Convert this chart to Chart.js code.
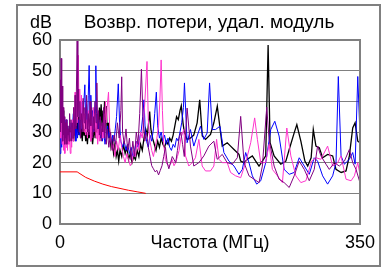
<!DOCTYPE html>
<html>
<head>
<meta charset="utf-8">
<script src="https://cdn.jsdelivr.net/npm/chart.js@4"></script>
<style>
  body { margin: 0; background: #fff; }
  #wrap { width: 386px; height: 268px; }
</style>
</head>
<body>
<div id="wrap"><canvas id="rlChart" width="386" height="268"></canvas></div>
<script>
// axis labels
const chartTitle = 'Возвр. потери, удал. модуль';
const yUnit = 'dB';
const xTickLabels = { 0: '0', 175: 'Частота (МГц)', 350: '350' };

// limit line (red)
const limitMHz = [0, 20, 30, 40, 50, 60, 70, 80, 90, 100];
const limitDb = [17, 17, 15.2, 14, 13, 12.2, 11.6, 11, 10.5, 10];

// purple trace
const purpleMHz = [0,0.7,1.4,2,2.6,3.2,3.8,4.4,5,5.6,6.2,6.8,7.4,8,8.6,9.2,9.8,10.5,11.2,12,12.8,13.6,14.4,15.2,16,16.8,17.6,18.4,19.2,20,
  20.8,21.6,22.4,23.2,24,25,26,27,28,29,30,31,32,33,34,35,36,37,38,39,40,41,42,43,44,45,46,47,48,49,50,51,52,53,54,55,
  57,59,61,63,65,67,69,71,72,73,75,77,79,81,83,85,87,89,91,93,95,97,99,101,103,105,107,109,111,113,115,117,119,121,123,125,127,129,131,133,
  135,137,139,141,143,145,148.3,152.2,156.1,162,167.8,173.7,179.5,183.4,189.3,195,201,206.9,210.8,214.7,220.5,226.4,232.2,236.1,241.2,243.9,
  249.8,255.6,261.5,267.4,273.2,279.1,285,290.8,296.6,300.5,304.4,310.3,314.2,320,325.9,331.8,337.6,341.5,345.4,349.3,350];
const purpleDb = [47,30,54,33,45,27,38,29,35,26,33,28,34,26,32,29,31,27,36,30,34,27,33,28,38,29,42,31,45,60,
  35,44,30,40,28,36,30,41,33,38,31,42,30,36,29,40,32,38,28,35,30,40,33,46,31,37,29,35,27,33,30,38,28,34,26,31,
  25,30,24,29,26,33,28,37,48,30,26,31,24,28,21,27,22,30,26,36,50.5,33,27,30,25,22,19,18,17,17.5,16,17.5,19,22,25,20,18,20,22,21,
  20,24,28,30,26,22,37.8,25.4,18.9,20,22.2,25.4,27,21.1,22.7,20,19.5,21.6,35.1,20,15.7,14.6,13.5,18.9,38.1,27.6,
  18.9,14.6,13.5,11.9,15.7,20.5,17.8,14.1,17.8,25.4,22.2,19.5,17.8,20,18.9,20.5,24.3,20,17.8,14.1,13.7];

// magenta trace
const magentaMHz = [0,0.8,1.6,2.4,3.2,4,4.8,5.6,6.4,7.2,8,8.8,9.6,10.4,11.2,12,12.8,13.6,14.4,15.2,16,16.8,17.6,18.4,19.2,20,21.4,22.2,23,24,
  25,26,27,28,29,30,31,32,33,34,35,36,37,38,39,40,41,42,43,44,45,46,47,48,49,50,51,52,53,54,55,
  56.6,58,59.5,61,62.5,64,66,68,70,72,74,76,78,80,82,84,86,88,90,92,94,96,98,100,101.5,103,105,107,109,111,
  113,115,116.5,118,119.5,121,123,125,127,129,131,133,135,137,139,141,144.4,146.4,150.3,154.2,
  158,162,165.9,169.8,175.6,179.5,182.7,185.4,189.3,195.1,199,204.9,210.8,216.6,222.5,227.1,230.3,234.2,240,243.9,
  247.8,253.7,259.5,264.6,269.3,275.2,281,286.9,293.5,298.6,304.4,312.2,318.1,324,327.8,333.7,339.6,343.5,347.4,350];
const magentaDb = [40,28,44,26,35,24,31,23,29,25,33,24,30,26,28,23,31,25,34,27,38,30,43,32,40,33,55,37,44,34,
  42,33,39,30,36,29,34,28,37,30,33,27,35,29,38,31,36,28,33,26,31,27,34,29,32,28,36,30,40,33,38,
  43,31,27,24,26,22,27,24,29,25,22,20,23,21,19,20,24,22,27,24,30,28,35,45,53,34,27,24,22,25,
  28,32,40,53.5,37,26,21,19.5,19,19.5,21,19,20,22,24,28,30.8,22.2,18.9,20,
  21.6,27.6,18.9,17.3,17.3,18.9,27.6,21.1,20,20,16.8,15.7,15.1,20,26.5,34.6,27.6,20,20,26,
  17.8,15.7,13.5,31.3,22.2,15.7,13.5,14.1,20.5,21.6,21.1,25.4,18.9,20,22.2,14.6,14.1,15.7,20,16];

// blue trace
const blueMHz = [0,1,2,3,4,5,6,7,8,9,10,11,12,13,14,15.6,16.5,17.5,18.5,19.5,20.5,21.5,22.5,23.5,24.5,25.5,26.5,27.5,29,30,
  31,32,33,34,35,36,37,38,39,40,41,41.8,42.6,43.5,44.5,45.5,46.5,47.5,48.5,49.5,51,52.5,54,55.5,57,58.5,60,61.5,63,64.5,
  66,68,69.5,71,73,75,77,79,81,83,85,87,89,91,93,95,96.5,98,99.5,101,103,105,107,109,110.5,112.4,114,116,118,120,
  122,124,126,128,130,132,134,136,138,140,142,144,145.2,148.3,152.2,156.1,160,163.9,167.8,171.7,
  174.5,177.6,181.5,186.6,191.2,197.1,203,208.8,212.7,216.6,220.5,224.4,229.5,234.2,240,245.9,250.6,255.6,261.5,267.4,
  273.2,279.1,285,290.8,296.6,300.5,306.4,312.2,318.1,322,324.7,327.9,331.8,337.6,341.5,344.3,347.4,350];
const blueDb = [23,30,25,33,28,31,27,34,29,32,27,30,28,33,30,36,29,32,27,31,28,34,29,37,31,40,33,38,45.4,33,
  39,31,42,51.7,36,42,32,37,30,35,40,51.6,36,31,34,29,33,28,31,27,30,26,29,32,28,30,26,29,27,31,
  35,45.7,33,27,25,27,24,26,23,25,22,24,27,25,28,31,35,40.5,30,27,25,29,27,31,36,43,32,28,30,27,
  29,26,28,25,24,26,25,28,27,30,33,38,46,26.5,30.8,25.4,28.7,31.9,27.6,29.7,
  46,30.8,30.8,31.9,23.3,20.5,18.9,16.2,17.8,23.3,20,15.7,13,14.1,20,30.8,33.5,28.7,17.8,16.2,
  16.8,21.6,18.9,16.2,21.6,20.5,15.7,13,15.7,20,48.1,22.2,19.5,21.1,23.3,19.5,48.1,28.7];

// black trace
const blackMHz = [0,0.6,1.3,2,2.8,3.6,4.4,5.2,6,7,8,9,10,11,12,13,14,15,16,17,18,19,20,21,22,23,24,25,26,27,28,29,30,31,32,33,34,35,36,37,
  38,39,40,41,42,43,44,45,46,47,48,49,50,51,52,53,54,55,56,57,58,59.5,61,62.5,64,65.5,67,68.5,70,72,74,76,78,80,82,84,86,
  88,90,92,94,96,98,100,102,104.6,106,108,110,112,114,116,118,120,122,124,126,128,130,132,134,136,138,140,141.5,143.5,145,
  148.3,152,156,160,163,166,169.8,175.6,179.5,183.5,189.3,195.1,199,203,208.8,210.8,214.7,218.6,224.4,228.3,
  232.2,236.1,240,242.8,245.1,249.8,257.6,263.5,267.4,273.2,276.3,281,285.7,289,293,295.5,298.6,302.5,306.4,312.2,
  318.1,322,328,333.7,337.6,341.5,344.3,347.4,350];
const blackDb = [38,44.4,35,41,31,37,29,34,28,33,27,31,28,32,27,30,28,31,27,32,29,33,30,35,29,32,28,31,27,33,29,31,27,30,26,31,28,32,27,30,
  26,29,31,28,33,30,36,31,38,33,39,32,37,33,40,34,38.5,30,33,28,30,25,27,23,26,22,24,20.5,24,22,26,23,25,21,23,20,22,
  21,24,22,26,24,28,31,29,36.7,31,28,26,24,27,25,28,26,25,27,26,28,27,29,32,35,34,37,38.6,33,30,
  27.6,28,29,33,40.5,28.7,27.6,29.2,33,38.4,25.4,26.5,25.4,24.3,22.7,20.5,20,21.1,22.2,20.5,
  18.9,20.5,22.2,58.4,26.5,22.2,19.5,20.5,24.3,29.7,32.4,27,20.5,18.9,21.6,30.8,25.4,24.9,21.6,22.7,
  22.2,17.8,16.8,17.3,22.2,31.3,33,27,26.5];

const FONT = "'Liberation Sans', Arial, sans-serif";

function pts(xs, ys) {
  return xs.map((x, i) => ({ x: x, y: ys[i] }));
}

function trace(label, xs, ys, color, width) {
  return {
    label: label,
    data: pts(xs, ys),
    borderColor: color,
    borderWidth: width || 1,
    pointRadius: 0,
    tension: 0,
    fill: false
  };
}

// frame, plot box and header texts
const decorations = {
  id: 'decorations',
  afterDraw(chart) {
    const ctx = chart.ctx;
    const a = chart.chartArea;
    ctx.save();
    ctx.strokeStyle = '#808080';
    ctx.lineWidth = 2;
    ctx.strokeRect(17, 5, 363, 261);
    ctx.beginPath();
    ctx.moveTo(a.left, a.top);
    ctx.lineTo(a.right, a.top);
    ctx.lineTo(a.right, a.bottom);
    ctx.stroke();
    ctx.fillStyle = '#000';
    ctx.textBaseline = 'middle';
    ctx.textAlign = 'right';
    ctx.font = '18px ' + FONT;
    ctx.fillText(yUnit, 52, 23);
    ctx.textAlign = 'center';
    ctx.font = '19px ' + FONT;
    ctx.fillText(chartTitle, 209, 23);
    ctx.restore();
  }
};

document.addEventListener('DOMContentLoaded', function() {
  const ctx = document.getElementById('rlChart');
  new Chart(ctx.getContext('2d'), {
    type: 'line',
    data: {
      datasets: [
        trace('purple', purpleMHz, purpleDb, '#800080'),
        trace('magenta', magentaMHz, magentaDb, '#ff33cc'),
        trace('blue', blueMHz, blueDb, '#0000ff'),
        trace('black', blackMHz, blackDb, '#000000', 1.3),
        trace('limit', limitMHz, limitDb, '#ff0000')
      ]
    },
    options: {
      responsive: false,
      animation: false,
      layout: { padding: { left: 0, right: 26, top: 40, bottom: 0 } },
      plugins: {
        legend: { display: false },
        title: { display: false },
        tooltip: { enabled: false }
      },
      scales: {
        x: {
          type: 'linear',
          min: 0,
          max: 350,
          afterBuildTicks: s => { s.ticks = [{ value: 0 }, { value: 175 }, { value: 350 }]; },
          afterFit: s => { s.height = 44; },
          grid: { display: false, drawTicks: false },
          border: { display: true, color: '#808080', width: 2 },
          ticks: {
            autoSkip: false,
            maxRotation: 0,
            padding: 8,
            color: '#000',
            font: { family: FONT, size: 18 },
            callback: v => xTickLabels[v] ?? ''
          }
        },
        y: {
          min: 0,
          max: 60,
          afterFit: s => { s.width = 60; },
          grid: { color: '#808080', lineWidth: 1, drawTicks: false },
          border: { display: true, color: '#808080', width: 2 },
          ticks: {
            stepSize: 10,
            padding: 8,
            color: '#000',
            font: { family: FONT, size: 18 }
          }
        }
      }
    },
    plugins: [decorations]
  });
});
</script>
</body>
</html>
